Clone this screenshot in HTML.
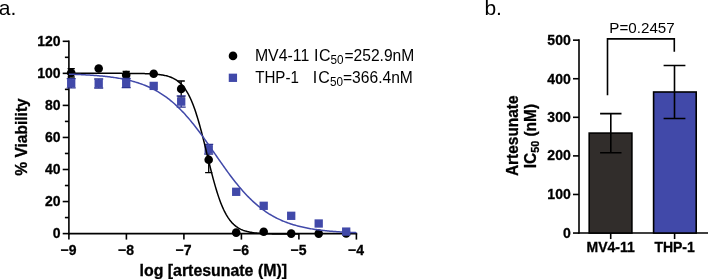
<!DOCTYPE html>
<html lang="en"><head><meta charset="utf-8"><title>Artesunate viability</title>
<style>html,body{margin:0;padding:0;background:#fff}body{width:708px;height:279px;position:relative;overflow:hidden}</style>
</head><body>
<svg width="708" height="279" viewBox="0 0 708 279" style="position:absolute;left:0;top:0">
<rect width="708" height="279" fill="#fff"/>
<g font-family="'Liberation Sans', Arial, sans-serif" fill="#000">
<text transform="translate(-1.20 15.05) scale(1.0000 1)" font-size="21.00">a.</text>
<text transform="translate(484.40 15.35) scale(1.0000 1)" font-size="21.00">b.</text>
<g stroke="#000" stroke-width="1.60" fill="none" stroke-linecap="butt">
<path d="M68.90 40.50 V234.40"/>
<path d="M68.10 233.60 H357.20"/>
<path d="M62.70 233.60 H68.90"/>
<path d="M62.70 201.55 H68.90"/>
<path d="M62.70 169.50 H68.90"/>
<path d="M62.70 137.45 H68.90"/>
<path d="M62.70 105.40 H68.90"/>
<path d="M62.70 73.35 H68.90"/>
<path d="M62.70 41.30 H68.90"/>
<path d="M64.90 217.57 H68.90"/>
<path d="M64.90 185.52 H68.90"/>
<path d="M64.90 153.47 H68.90"/>
<path d="M64.90 121.42 H68.90"/>
<path d="M64.90 89.38 H68.90"/>
<path d="M64.90 57.32 H68.90"/>
<path d="M68.90 233.60 V239.60"/>
<path d="M126.40 233.60 V239.60"/>
<path d="M183.90 233.60 V239.60"/>
<path d="M241.40 233.60 V239.60"/>
<path d="M298.90 233.60 V239.60"/>
<path d="M356.40 233.60 V239.60"/>
</g>
<text transform="translate(60.50 238.00) scale(0.9615 1)" font-size="14.56" font-weight="bold" stroke="#000" stroke-width="0.3" text-anchor="end">0</text>
<text transform="translate(60.50 206.00) scale(0.9615 1)" font-size="14.56" font-weight="bold" stroke="#000" stroke-width="0.3" text-anchor="end">20</text>
<text transform="translate(60.50 174.00) scale(0.9615 1)" font-size="14.56" font-weight="bold" stroke="#000" stroke-width="0.3" text-anchor="end">40</text>
<text transform="translate(60.50 142.00) scale(0.9615 1)" font-size="14.56" font-weight="bold" stroke="#000" stroke-width="0.3" text-anchor="end">60</text>
<text transform="translate(60.50 110.00) scale(0.9615 1)" font-size="14.56" font-weight="bold" stroke="#000" stroke-width="0.3" text-anchor="end">80</text>
<text transform="translate(60.50 78.00) scale(0.9615 1)" font-size="14.56" font-weight="bold" stroke="#000" stroke-width="0.3" text-anchor="end">100</text>
<text transform="translate(60.50 46.00) scale(0.9615 1)" font-size="14.56" font-weight="bold" stroke="#000" stroke-width="0.3" text-anchor="end">120</text>
<text transform="translate(68.50 255.00) scale(0.9615 1)" font-size="14.56" font-weight="bold" stroke="#000" stroke-width="0.3" text-anchor="middle">−9</text>
<text transform="translate(126.00 255.00) scale(0.9615 1)" font-size="14.56" font-weight="bold" stroke="#000" stroke-width="0.3" text-anchor="middle">−8</text>
<text transform="translate(183.50 255.00) scale(0.9615 1)" font-size="14.56" font-weight="bold" stroke="#000" stroke-width="0.3" text-anchor="middle">−7</text>
<text transform="translate(241.00 255.00) scale(0.9615 1)" font-size="14.56" font-weight="bold" stroke="#000" stroke-width="0.3" text-anchor="middle">−6</text>
<text transform="translate(298.50 255.00) scale(0.9615 1)" font-size="14.56" font-weight="bold" stroke="#000" stroke-width="0.3" text-anchor="middle">−5</text>
<text transform="translate(356.00 255.00) scale(0.9615 1)" font-size="14.56" font-weight="bold" stroke="#000" stroke-width="0.3" text-anchor="middle">−4</text>
<text transform="translate(139.50 276.40) scale(1.0192 1)" font-size="15.60" font-weight="bold" stroke="#000" stroke-width="0.3">log [artesunate (M)]</text>
<text transform="translate(26.80 175.70) rotate(-90) scale(0.9971 1)" font-size="15.60" font-weight="bold" stroke="#000" stroke-width="0.3">% Viability</text>
<path d="M71.20 68.60 V77.00 M67.60 68.60 H74.80 M67.60 77.00 H74.80" stroke="#000" stroke-width="1.30" fill="none"/>
<path d="M126.20 71.50 V78.50 M122.60 71.50 H129.80 M122.60 78.50 H129.80" stroke="#000" stroke-width="1.30" fill="none"/>
<path d="M181.20 81.00 V96.80 M177.60 81.00 H184.80 M177.60 96.80 H184.80" stroke="#000" stroke-width="1.30" fill="none"/>
<path d="M208.70 146.80 V172.60 M205.10 146.80 H212.30 M205.10 172.60 H212.30" stroke="#000" stroke-width="1.30" fill="none"/>
<circle cx="71.20" cy="72.80" r="4.3" fill="#000"/>
<circle cx="98.70" cy="68.50" r="4.3" fill="#000"/>
<circle cx="126.20" cy="75.00" r="4.3" fill="#000"/>
<circle cx="153.70" cy="73.80" r="4.3" fill="#000"/>
<circle cx="181.20" cy="88.90" r="4.3" fill="#000"/>
<circle cx="208.70" cy="159.70" r="4.3" fill="#000"/>
<circle cx="236.20" cy="232.60" r="4.3" fill="#000"/>
<circle cx="263.70" cy="231.80" r="4.3" fill="#000"/>
<circle cx="291.20" cy="233.60" r="4.3" fill="#000"/>
<circle cx="318.70" cy="233.60" r="4.3" fill="#000"/>
<circle cx="346.20" cy="233.40" r="4.3" fill="#000"/>
<path d="M71.20 78.60 V87.80 M66.70 78.60 H75.70 M66.70 87.80 H75.70" stroke="#2c3390" stroke-width="1.30" fill="none"/>
<path d="M98.70 79.00 V88.00 M94.20 79.00 H103.20 M94.20 88.00 H103.20" stroke="#2c3390" stroke-width="1.30" fill="none"/>
<path d="M126.20 78.40 V87.60 M121.70 78.40 H130.70 M121.70 87.60 H130.70" stroke="#2c3390" stroke-width="1.30" fill="none"/>
<path d="M181.20 96.00 V107.20 M176.70 96.00 H185.70 M176.70 107.20 H185.70" stroke="#2c3390" stroke-width="1.30" fill="none"/>
<path d="M208.70 144.40 V154.00 M204.20 144.40 H213.20 M204.20 154.00 H213.20" stroke="#2c3390" stroke-width="1.30" fill="none"/>
<rect x="67.05" y="79.05" width="8.3" height="8.3" fill="#4149a9"/>
<rect x="94.55" y="79.35" width="8.3" height="8.3" fill="#4149a9"/>
<rect x="122.05" y="78.85" width="8.3" height="8.3" fill="#4149a9"/>
<rect x="149.55" y="81.75" width="8.3" height="8.3" fill="#4149a9"/>
<rect x="177.05" y="97.45" width="8.3" height="8.3" fill="#4149a9"/>
<rect x="204.55" y="145.05" width="8.3" height="8.3" fill="#4149a9"/>
<rect x="232.05" y="187.65" width="8.3" height="8.3" fill="#4149a9"/>
<rect x="259.55" y="201.65" width="8.3" height="8.3" fill="#4149a9"/>
<rect x="287.05" y="211.65" width="8.3" height="8.3" fill="#4149a9"/>
<rect x="314.55" y="219.35" width="8.3" height="8.3" fill="#4149a9"/>
<rect x="342.05" y="227.45" width="8.3" height="8.3" fill="#4149a9"/>
<path d="M68.90 73.35 L69.82 73.35 L70.74 73.35 L71.66 73.35 L72.58 73.35 L73.50 73.35 L74.42 73.35 L75.34 73.35 L76.26 73.35 L77.18 73.35 L78.10 73.35 L79.02 73.35 L79.94 73.35 L80.86 73.35 L81.78 73.35 L82.70 73.35 L83.62 73.35 L84.54 73.35 L85.46 73.35 L86.38 73.35 L87.30 73.35 L88.22 73.35 L89.14 73.35 L90.06 73.35 L90.98 73.35 L91.90 73.35 L92.82 73.35 L93.74 73.35 L94.66 73.35 L95.58 73.35 L96.50 73.35 L97.42 73.35 L98.34 73.35 L99.26 73.35 L100.18 73.35 L101.10 73.35 L102.02 73.35 L102.94 73.35 L103.86 73.35 L104.78 73.35 L105.70 73.36 L106.62 73.36 L107.54 73.36 L108.46 73.36 L109.38 73.36 L110.30 73.36 L111.22 73.36 L112.14 73.36 L113.06 73.36 L113.98 73.36 L114.90 73.36 L115.82 73.36 L116.74 73.37 L117.66 73.37 L118.58 73.37 L119.50 73.37 L120.42 73.37 L121.34 73.37 L122.26 73.38 L123.18 73.38 L124.10 73.38 L125.02 73.39 L125.94 73.39 L126.86 73.39 L127.78 73.40 L128.70 73.40 L129.62 73.41 L130.54 73.41 L131.46 73.42 L132.38 73.43 L133.30 73.43 L134.22 73.44 L135.14 73.45 L136.06 73.46 L136.98 73.47 L137.90 73.49 L138.82 73.50 L139.74 73.51 L140.66 73.53 L141.58 73.55 L142.50 73.57 L143.42 73.59 L144.34 73.61 L145.26 73.64 L146.18 73.67 L147.10 73.70 L148.02 73.73 L148.94 73.77 L149.86 73.81 L150.78 73.86 L151.70 73.91 L152.62 73.96 L153.54 74.02 L154.46 74.09 L155.38 74.16 L156.30 74.24 L157.22 74.33 L158.14 74.43 L159.06 74.53 L159.98 74.65 L160.90 74.78 L161.82 74.92 L162.74 75.07 L163.66 75.24 L164.58 75.42 L165.50 75.62 L166.42 75.84 L167.34 76.09 L168.26 76.35 L169.18 76.64 L170.10 76.96 L171.02 77.31 L171.94 77.69 L172.86 78.11 L173.78 78.56 L174.70 79.06 L175.62 79.60 L176.54 80.20 L177.46 80.84 L178.38 81.55 L179.30 82.31 L180.22 83.14 L181.14 84.05 L182.06 85.03 L182.98 86.09 L183.90 87.24 L184.82 88.49 L185.74 89.83 L186.66 91.28 L187.58 92.84 L188.50 94.51 L189.42 96.31 L190.34 98.23 L191.26 100.27 L192.18 102.46 L193.10 104.77 L194.02 107.22 L194.94 109.81 L195.86 112.54 L196.78 115.40 L197.70 118.40 L198.62 121.52 L199.54 124.76 L200.46 128.11 L201.38 131.56 L202.30 135.11 L203.22 138.73 L204.14 142.42 L205.06 146.16 L205.98 149.93 L206.90 153.72 L207.82 157.50 L208.74 161.27 L209.66 165.01 L210.58 168.70 L211.50 172.32 L212.42 175.87 L213.34 179.32 L214.26 182.67 L215.18 185.91 L216.10 189.03 L217.02 192.03 L217.94 194.89 L218.86 197.62 L219.78 200.21 L220.70 202.66 L221.62 204.98 L222.54 207.16 L223.46 209.20 L224.38 211.12 L225.30 212.92 L226.22 214.59 L227.14 216.15 L228.06 217.60 L228.98 218.94 L229.90 220.19 L230.82 221.34 L231.74 222.40 L232.66 223.38 L233.58 224.29 L234.50 225.12 L235.42 225.88 L236.34 226.59 L237.26 227.23 L238.18 227.83 L239.10 228.37 L240.02 228.87 L240.94 229.32 L241.86 229.74 L242.78 230.12 L243.70 230.47 L244.62 230.79 L245.54 231.08 L246.46 231.34 L247.38 231.59 L248.30 231.81 L249.22 232.01 L250.14 232.19 L251.06 232.36 L251.98 232.51 L252.90 232.65 L253.82 232.78 L254.74 232.90 L255.66 233.00 L256.58 233.10 L257.50 233.19 L258.42 233.27 L259.34 233.34 L260.26 233.41 L261.18 233.47 L262.10 233.52 L263.02 233.57 L263.94 233.62 L264.86 233.66 L265.78 233.70 L266.70 233.73 L267.62 233.76 L268.54 233.79 L269.46 233.82 L270.38 233.84 L271.30 233.86 L272.22 233.88 L273.14 233.90 L274.06 233.92 L274.98 233.93 L275.90 233.94 L276.82 233.96 L277.74 233.97 L278.66 233.98 L279.58 233.99 L280.50 234.00 L281.42 234.00 L282.34 234.01 L283.26 234.02 L284.18 234.02 L285.10 234.03 L286.02 234.03 L286.94 234.04 L287.86 234.04 L288.78 234.04 L289.70 234.05 L290.62 234.05 L291.54 234.05 L292.46 234.06 L293.38 234.06 L294.30 234.06 L295.22 234.06 L296.14 234.06 L297.06 234.07 L297.98 234.07 L298.90 234.07" fill="none" stroke="#000" stroke-width="1.5"/>
<path d="M68.90 74.18 L70.05 74.22 L71.20 74.26 L72.35 74.29 L73.50 74.33 L74.65 74.37 L75.80 74.42 L76.95 74.46 L78.10 74.51 L79.25 74.56 L80.40 74.61 L81.55 74.66 L82.70 74.72 L83.85 74.77 L85.00 74.83 L86.15 74.90 L87.30 74.96 L88.45 75.03 L89.60 75.10 L90.75 75.17 L91.90 75.25 L93.05 75.33 L94.20 75.41 L95.35 75.50 L96.50 75.58 L97.65 75.68 L98.80 75.77 L99.95 75.88 L101.10 75.98 L102.25 76.09 L103.40 76.20 L104.55 76.32 L105.70 76.45 L106.85 76.57 L108.00 76.71 L109.15 76.85 L110.30 76.99 L111.45 77.14 L112.60 77.30 L113.75 77.46 L114.90 77.63 L116.05 77.81 L117.20 77.99 L118.35 78.18 L119.50 78.38 L120.65 78.58 L121.80 78.80 L122.95 79.02 L124.10 79.25 L125.25 79.49 L126.40 79.74 L127.55 80.00 L128.70 80.27 L129.85 80.55 L131.00 80.84 L132.15 81.14 L133.30 81.46 L134.45 81.78 L135.60 82.12 L136.75 82.47 L137.90 82.83 L139.05 83.21 L140.20 83.60 L141.35 84.00 L142.50 84.42 L143.65 84.86 L144.80 85.31 L145.95 85.77 L147.10 86.26 L148.25 86.76 L149.40 87.28 L150.55 87.81 L151.70 88.37 L152.85 88.94 L154.00 89.53 L155.15 90.15 L156.30 90.78 L157.45 91.43 L158.60 92.11 L159.75 92.81 L160.90 93.53 L162.05 94.27 L163.20 95.03 L164.35 95.82 L165.50 96.64 L166.65 97.47 L167.80 98.34 L168.95 99.22 L170.10 100.13 L171.25 101.07 L172.40 102.03 L173.55 103.02 L174.70 104.04 L175.85 105.08 L177.00 106.15 L178.15 107.24 L179.30 108.36 L180.45 109.51 L181.60 110.68 L182.75 111.88 L183.90 113.11 L185.05 114.36 L186.20 115.64 L187.35 116.94 L188.50 118.27 L189.65 119.62 L190.80 121.00 L191.95 122.40 L193.10 123.82 L194.25 125.26 L195.40 126.73 L196.55 128.21 L197.70 129.72 L198.85 131.24 L200.00 132.78 L201.15 134.34 L202.30 135.91 L203.45 137.50 L204.60 139.10 L205.75 140.72 L206.90 142.34 L208.05 143.97 L209.20 145.61 L210.35 147.26 L211.50 148.91 L212.65 150.57 L213.80 152.23 L214.95 153.89 L216.10 155.55 L217.25 157.21 L218.40 158.86 L219.55 160.51 L220.70 162.16 L221.85 163.80 L223.00 165.42 L224.15 167.04 L225.30 168.65 L226.45 170.24 L227.60 171.82 L228.75 173.39 L229.90 174.94 L231.05 176.47 L232.20 177.99 L233.35 179.48 L234.50 180.96 L235.65 182.41 L236.80 183.84 L237.95 185.26 L239.10 186.64 L240.25 188.01 L241.40 189.35 L242.55 190.66 L243.70 191.95 L244.85 193.22 L246.00 194.46 L247.15 195.67 L248.30 196.86 L249.45 198.02 L250.60 199.15 L251.75 200.26 L252.90 201.34 L254.05 202.39 L255.20 203.42 L256.35 204.42 L257.50 205.40 L258.65 206.35 L259.80 207.28 L260.95 208.17 L262.10 209.05 L263.25 209.90 L264.40 210.72 L265.55 211.52 L266.70 212.30 L267.85 213.05 L269.00 213.79 L270.15 214.49 L271.30 215.18 L272.45 215.85 L273.60 216.49 L274.75 217.11 L275.90 217.72 L277.05 218.30 L278.20 218.86 L279.35 219.41 L280.50 219.94 L281.65 220.44 L282.80 220.94 L283.95 221.41 L285.10 221.87 L286.25 222.31 L287.40 222.74 L288.55 223.15 L289.70 223.55 L290.85 223.93 L292.00 224.30 L293.15 224.66 L294.30 225.00 L295.45 225.33 L296.60 225.65 L297.75 225.96 L298.90 226.26 L300.05 226.54 L301.20 226.82 L302.35 227.08 L303.50 227.33 L304.65 227.58 L305.80 227.81 L306.95 228.04 L308.10 228.26 L309.25 228.47 L310.40 228.67 L311.55 228.87 L312.70 229.05 L313.85 229.23 L315.00 229.40 L316.15 229.57 L317.30 229.73 L318.45 229.88 L319.60 230.03 L320.75 230.17 L321.90 230.31 L323.05 230.44 L324.20 230.57 L325.35 230.69 L326.50 230.80 L327.65 230.91 L328.80 231.02 L329.95 231.13 L331.10 231.22 L332.25 231.32 L333.40 231.41 L334.55 231.50 L335.70 231.58 L336.85 231.66 L338.00 231.74 L339.15 231.82 L340.30 231.89 L341.45 231.96 L342.60 232.02 L343.75 232.09 L344.90 232.15 L346.05 232.21 L347.20 232.26 L348.35 232.32 L349.50 232.37 L350.65 232.42 L351.80 232.46 L352.95 232.51 L354.10 232.55 L355.25 232.60 L356.40 232.64" fill="none" stroke="#4149a9" stroke-width="1.5"/>
<circle cx="233.0" cy="55.9" r="4.3" fill="#000"/>
<rect x="228.75" y="73.65" width="8.3" height="8.3" fill="#4149a9"/>
<text transform="translate(254.90 60.50) scale(0.9725 1)" font-size="16.32">MV4-11</text>
<text transform="translate(313.90 60.50) scale(0.9804 1)" font-size="16.32">I<tspan dx="0.7">C</tspan><tspan font-size="11.96" dy="3.40">50</tspan></text>
<text transform="translate(344.40 60.50) scale(0.9569 1)" font-size="16.32">=252.9nM</text>
<text transform="translate(255.20 82.50) scale(0.9265 1)" font-size="16.32">THP-1</text>
<text transform="translate(312.70 82.50) scale(0.9804 1)" font-size="16.32">I<tspan dx="1.2">C</tspan><tspan font-size="11.96" dy="3.40">50</tspan></text>
<text transform="translate(343.00 82.50) scale(0.9569 1)" font-size="16.32">=366.4nM</text>
<g stroke="#000" stroke-width="1.60" fill="none">
<path d="M579.00 39.35 V233.85"/>
<path d="M578.20 233.05 H709"/>
<path d="M573.00 233.05 H579.00"/>
<path d="M573.00 194.47 H579.00"/>
<path d="M573.00 155.89 H579.00"/>
<path d="M573.00 117.31 H579.00"/>
<path d="M573.00 78.73 H579.00"/>
<path d="M573.00 40.15 H579.00"/>
<path d="M610.70 233.05 V239.05"/>
<path d="M674.60 233.05 V239.05"/>
</g>
<text transform="translate(570.70 238.00) scale(0.9615 1)" font-size="14.56" font-weight="bold" stroke="#000" stroke-width="0.3" text-anchor="end">0</text>
<text transform="translate(570.70 199.00) scale(0.9615 1)" font-size="14.56" font-weight="bold" stroke="#000" stroke-width="0.3" text-anchor="end">100</text>
<text transform="translate(570.70 160.00) scale(0.9615 1)" font-size="14.56" font-weight="bold" stroke="#000" stroke-width="0.3" text-anchor="end">200</text>
<text transform="translate(570.70 122.00) scale(0.9615 1)" font-size="14.56" font-weight="bold" stroke="#000" stroke-width="0.3" text-anchor="end">300</text>
<text transform="translate(570.70 84.00) scale(0.9615 1)" font-size="14.56" font-weight="bold" stroke="#000" stroke-width="0.3" text-anchor="end">400</text>
<text transform="translate(570.70 45.00) scale(0.9615 1)" font-size="14.56" font-weight="bold" stroke="#000" stroke-width="0.3" text-anchor="end">500</text>
<text transform="translate(610.70 252.00) scale(0.9615 1)" font-size="14.56" font-weight="bold" stroke="#000" stroke-width="0.3" text-anchor="middle">MV4-11</text>
<text transform="translate(674.60 252.00) scale(0.9615 1)" font-size="14.56" font-weight="bold" stroke="#000" stroke-width="0.3" text-anchor="middle">THP-1</text>
<rect x="589.20" y="133.10" width="42.70" height="99.95" fill="#312d2b" stroke="#000" stroke-width="1.6"/>
<rect x="653.60" y="92.00" width="42.60" height="141.05" fill="#4149a9" stroke="#000" stroke-width="1.6"/>
<path d="M610.80 113.60 V152.80 M600.10 113.60 H621.50 M600.10 152.80 H621.50" stroke="#000" stroke-width="1.6" fill="none"/>
<path d="M674.50 65.50 V118.50 M663.60 65.50 H685.40 M663.60 118.50 H685.40" stroke="#000" stroke-width="1.6" fill="none"/>
<path d="M607.5 95.3 V38.9 H674.3 V51.8" stroke="#000" stroke-width="1.6" fill="none"/>
<text transform="translate(609.30 33.10) scale(0.9787 1)" font-size="15.52">P=0.2457</text>
<text transform="translate(518.00 176.10) rotate(-90) scale(0.9904 1)" font-size="15.60" font-weight="bold" stroke="#000" stroke-width="0.3">Artesunate</text>
<text transform="translate(536.00 168.30) rotate(-90) scale(0.9904 1)" font-size="15.60" font-weight="bold" stroke="#000" stroke-width="0.3">IC<tspan font-size="10.92" dy="3.20">50</tspan><tspan dy="-3.2"> (nM)</tspan></text>
</g></svg>
</body></html>
